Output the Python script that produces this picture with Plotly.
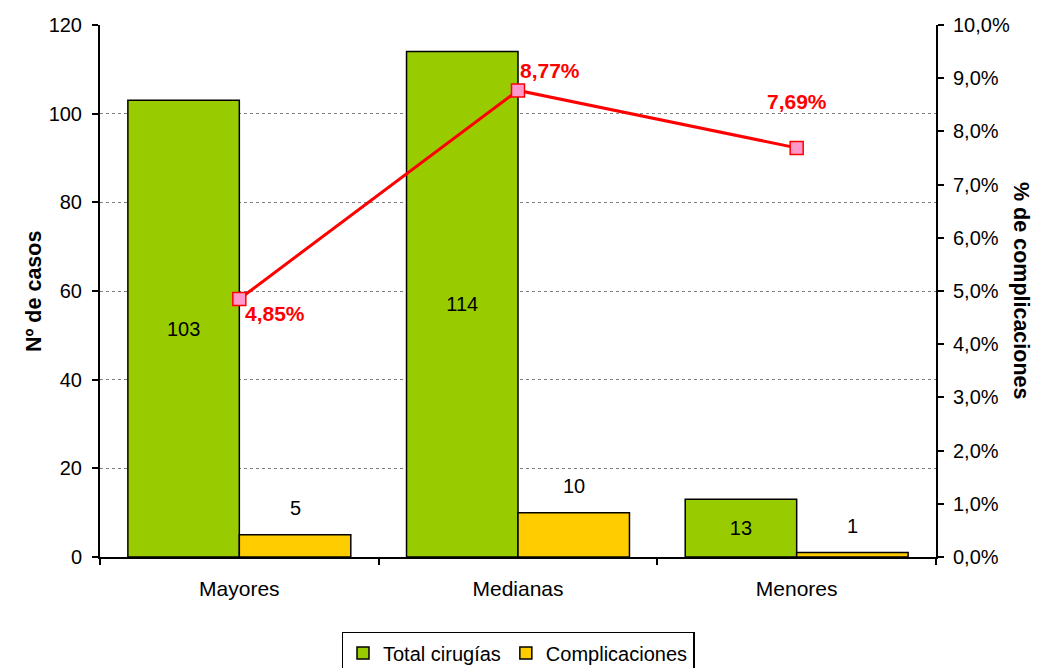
import plotly.graph_objects as go

# Datos
categorias = ["Mayores", "Medianas", "Menores"]
total_cirugias = [103, 114, 13]
complicaciones = [5, 10, 1]
pct_complicaciones = [4.85, 8.77, 7.69]  # en %

fuente = "Liberation Sans, Arial, sans-serif"
verde = "#99CC00"
amarillo = "#FFCC00"
rojo = "#FF0000"

fig = go.Figure()

# Barras: total de cirugías (etiqueta en el centro de la barra)
fig.add_trace(go.Bar(
    x=categorias, y=total_cirugias, name="Total cirugías",
    marker=dict(color=verde, line=dict(color="black", width=1.5)),
    text=[str(v) for v in total_cirugias],
    textposition="inside", insidetextanchor="middle",
    textfont=dict(color="black", size=20, family=fuente),
    hoverinfo="y",
))

# Barras: complicaciones
fig.add_trace(go.Bar(
    x=categorias, y=complicaciones, name="Complicaciones",
    marker=dict(color=amarillo, line=dict(color="black", width=1.5)),
    hoverinfo="y",
))

# Línea: % de complicaciones (eje derecho)
fig.add_trace(go.Scatter(
    x=categorias, y=[p / 100 for p in pct_complicaciones],
    yaxis="y2", mode="lines+markers", showlegend=False,
    line=dict(color=rojo, width=3),
    marker=dict(symbol="square", size=13, color="#FF99CC",
                line=dict(color=rojo, width=1.5)),
))

anotaciones = []

# Etiquetas de complicaciones sobre las barras amarillas
for cat, v in zip(categorias, complicaciones):
    anotaciones.append(dict(
        x=cat, y=v, xref="x", yref="y", text=str(v), showarrow=False,
        xshift=56, yshift=27,
        font=dict(size=20, color="black", family=fuente),
    ))

# Etiquetas de porcentaje (posiciones como en el original)
desplaz = [(4, -15, "left"), (0, 20, "left"), (0, 46, "center")]
for cat, p, (dx, dy, anc) in zip(categorias, pct_complicaciones, desplaz):
    anotaciones.append(dict(
        x=cat, y=p / 100, xref="x", yref="y2",
        text="<b>" + f"{p:.2f}".replace(".", ",") + "%</b>",
        showarrow=False, xanchor=anc, xshift=dx, yshift=dy,
        font=dict(size=21, color=rojo, family=fuente),
    ))

# Títulos de los ejes
anotaciones.append(dict(
    x=-0.0957, y=0.5, xref="paper", yref="paper",
    text="<b>Nº de casos</b>", textangle=-90, showarrow=False,
    font=dict(size=21.5, color="black", family=fuente),
))
anotaciones.append(dict(
    x=1.1184, y=0.5, xref="paper", yref="paper",
    text="<b>% de complicaciones</b>", textangle=90, showarrow=False,
    font=dict(size=21.5, color="black", family=fuente),
))

fig.update_layout(
    width=1046, height=668,
    margin=dict(l=92, r=118, t=17, b=119),
    plot_bgcolor="white", paper_bgcolor="white",
    barmode="group", bargap=0.2, bargroupgap=0,
    separators=",.",
    font=dict(family=fuente, size=20, color="black"),
    xaxis=dict(
        automargin=False,
        showline=True, linecolor="black", linewidth=2,
        ticks="outside", tickson="boundaries", ticklen=6,
        tickcolor="black", tickwidth=2,
        ticklabelstandoff=12,
        tickfont=dict(size=21),
    ),
    yaxis=dict(
        automargin=False,
        range=[0, 120], dtick=20,
        showline=True, linecolor="black", linewidth=2,
        ticks="outside", ticklen=6, tickcolor="black", tickwidth=2,
        showgrid=True, gridcolor="#808080", griddash="dot", gridwidth=1,
        zeroline=False,
        ticklabelstandoff=6,
        tickfont=dict(size=20),
    ),
    yaxis2=dict(
        automargin=False,
        overlaying="y", side="right", range=[0, 0.10], dtick=0.01,
        tickformat=".1%",
        showline=True, linecolor="black", linewidth=2,
        ticks="outside", ticklen=6, tickcolor="black", tickwidth=2,
        showgrid=False, zeroline=False,
        ticklabelstandoff=5,
        tickfont=dict(size=20),
    ),
    legend=dict(
        orientation="h", x=0.5, xanchor="center",
        yref="container", y=0.066, yanchor="top",
        bordercolor="black", borderwidth=1.5,
        font=dict(size=20), traceorder="normal", itemwidth=30,
    ),
    annotations=anotaciones,
)

fig.write_html("out.html")
